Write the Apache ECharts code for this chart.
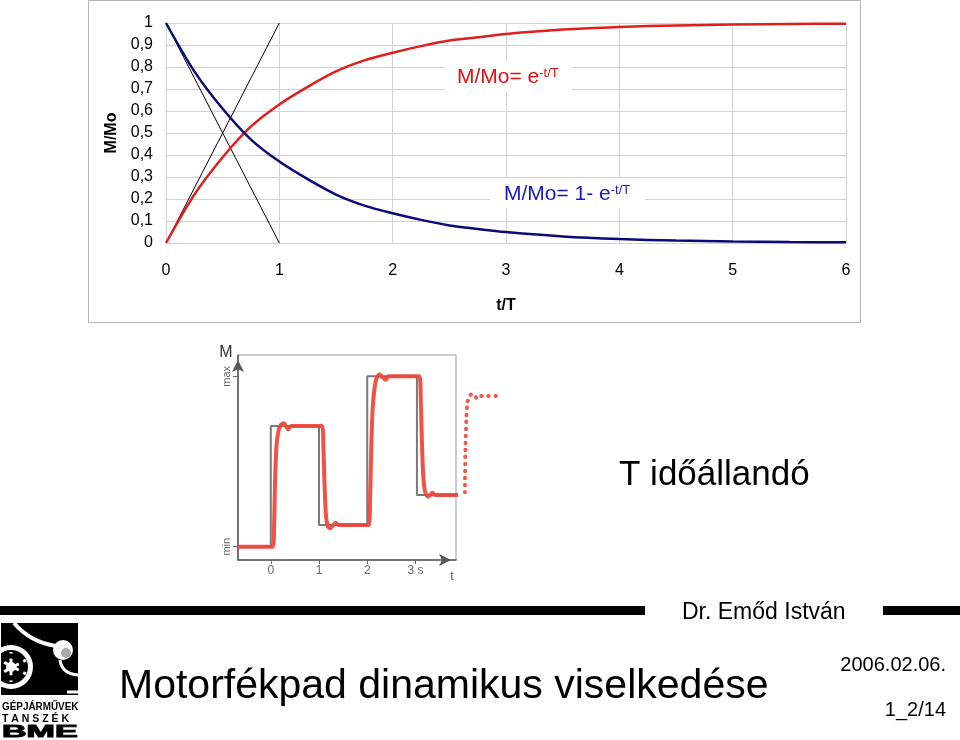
<!DOCTYPE html>
<html>
<head>
<meta charset="utf-8">
<script src="https://cdn.jsdelivr.net/npm/echarts@6/dist/echarts.min.js"></script>
<style>
  html, body { margin: 0; padding: 0; background: #fff; }
  #main { width: 960px; height: 740px; }
</style>
</head>
<body>
<div id="main"></div>
<script>
// top chart: t/T and the two exponential curves
var tT = [0, 0.25, 0.5, 0.75, 1, 1.25, 1.5, 1.75, 2, 2.25, 2.5, 2.75, 3, 3.5, 4, 4.5, 5, 5.5, 6];
var riseVals = [0, 0.22, 0.39, 0.53, 0.63, 0.71, 0.78, 0.83, 0.865, 0.895, 0.92, 0.935, 0.95, 0.97, 0.982, 0.989, 0.993, 0.996, 0.997];
var decayVals = [1, 0.78, 0.61, 0.47, 0.37, 0.29, 0.22, 0.17, 0.135, 0.105, 0.08, 0.064, 0.05, 0.03, 0.018, 0.011, 0.007, 0.004, 0.003];
var tangentUp = [[0, 0], [1, 1]];
var tangentDown = [[0, 1], [1, 0]];

// bottom chart: step input (grey) and response (red), M scaled min=0 .. max=1
var stepT = [-0.68, 0, 0, 1, 1, 2, 2, 3.03, 3.03, 3.87];
var stepM = [0, 0, 0.709, 0.709, 0.127, 0.127, 1, 1, 0.303, 0.303];
var respT = [-0.68, 0.04, 0.07, 0.09, 0.12, 0.16, 0.21, 0.27, 0.32, 0.36, 0.42, 1.06, 1.09, 1.11, 1.14, 1.18, 1.23, 1.29, 1.35, 1.41, 2.03, 2.06, 2.08, 2.11, 2.15, 2.19, 2.25, 2.32, 2.38, 2.44, 3.08, 3.11, 3.13, 3.16, 3.2, 3.26, 3.31, 3.35, 3.41, 3.92];
var respM = [0, 0, 0.15, 0.4, 0.6, 0.68, 0.715, 0.725, 0.705, 0.69, 0.708, 0.709, 0.6, 0.4, 0.2, 0.12, 0.108, 0.125, 0.14, 0.127, 0.127, 0.3, 0.55, 0.8, 0.93, 0.985, 1.01, 0.995, 0.98, 1.0, 1.0, 0.85, 0.65, 0.42, 0.32, 0.293, 0.305, 0.316, 0.303, 0.303];
// continuation after the frame (dotted)
var dotT = [4.02, 4.03, 4.05, 4.07, 4.1, 4.15, 4.21, 4.27, 4.33, 4.5, 4.69];
var dotM = [0.32, 0.55, 0.75, 0.84, 0.875, 0.893, 0.893, 0.87, 0.885, 0.885, 0.885];
var bottomTicks = [0, 1, 2, 3];

function pairs(xs, ys) {
  return xs.map(function (x, i) { return [x, ys[i]]; });
}

var FONT = 'Liberation Sans, Arial, sans-serif';
var chart = echarts.init(document.getElementById('main'), null, { renderer: 'canvas' });

// bottom chart scale: 48.3 px per second, t=0 at x=270.7
var PX = 48.3, X0 = 270.7;

var option = {
  animation: false,
  backgroundColor: '#fff',
  grid: [
    { left: 166, top: 23, width: 680, height: 220, show: false },
    { left: 238, top: 355, width: 218, height: 205, show: true, borderColor: '#9a9a9a', borderWidth: 1 },
    { left: X0 + 4.0 * PX, top: 355, width: 0.75 * PX, height: 205, show: false }
  ],
  xAxis: [
    {
      gridIndex: 0, type: 'value', min: 0, max: 6, interval: 1,
      name: 't/T', nameLocation: 'middle', nameGap: 55,
      nameTextStyle: { fontFamily: FONT, fontWeight: 'bold', fontSize: 16, color: '#000' },
      axisLine: { show: false }, axisTick: { show: false },
      axisLabel: { fontFamily: FONT, fontSize: 16, color: '#000', margin: 20 },
      splitLine: { show: true, lineStyle: { color: '#d2d2d2', width: 1 } }
    },
    {
      gridIndex: 1, type: 'value', min: -0.68, max: 3.84,
      axisLine: { show: true, onZero: false, lineStyle: { color: '#555', width: 1.5 }, symbol: ['none', 'arrow'], symbolSize: [9, 12], symbolOffset: [0, -5] },
      axisTick: { show: true, customValues: bottomTicks, length: 4, lineStyle: { color: '#666' } },
      axisLabel: { customValues: bottomTicks, fontFamily: FONT, fontSize: 12, color: '#666', margin: 5,
        formatter: function (v) { return v === 3 ? '3 s' : String(v); } },
      splitLine: { show: false }
    },
    { gridIndex: 2, type: 'value', min: 4.0, max: 4.75, show: false }
  ],
  yAxis: [
    {
      gridIndex: 0, type: 'value', min: 0, max: 1, interval: 0.1,
      name: 'M/Mo', nameLocation: 'middle', nameGap: 46, nameRotate: 90,
      nameTextStyle: { fontFamily: FONT, fontWeight: 'bold', fontSize: 16, color: '#000' },
      axisLine: { show: false }, axisTick: { show: false },
      axisLabel: { fontFamily: FONT, fontSize: 16, color: '#000', margin: 13,
        formatter: function (v) { return String(Math.round(v * 10) / 10).replace('.', ','); } },
      splitLine: { show: true, lineStyle: { color: '#d2d2d2', width: 1 } }
    },
    {
      gridIndex: 1, type: 'value', min: -0.078, max: 1.125,
      axisLine: { show: true, onZero: false, lineStyle: { color: '#555', width: 1.5 }, symbol: ['none', 'arrow'], symbolSize: [9, 12], symbolOffset: [0, -5] },
      axisTick: { show: true, customValues: [0, 1], length: 5, lineStyle: { color: '#666' } },
      axisLabel: { customValues: [0, 1], rotate: 90, fontFamily: FONT, fontSize: 11, color: '#666', margin: 6,
        formatter: function (v) { return v === 0 ? 'min' : 'max'; } },
      splitLine: { show: false }
    },
    { gridIndex: 2, type: 'value', min: -0.078, max: 1.125, show: false }
  ],
  series: [
    { type: 'line', xAxisIndex: 0, yAxisIndex: 0, data: pairs(tT, riseVals), smooth: 0.3, symbol: 'none',
      lineStyle: { color: '#e01e1e', width: 2.5 }, z: 4 },
    { type: 'line', xAxisIndex: 0, yAxisIndex: 0, data: pairs(tT, decayVals), smooth: 0.3, symbol: 'none',
      lineStyle: { color: '#0a0a78', width: 2.5 }, z: 4 },
    { type: 'line', xAxisIndex: 0, yAxisIndex: 0, data: tangentUp, symbol: 'none',
      lineStyle: { color: '#000', width: 1 }, z: 3 },
    { type: 'line', xAxisIndex: 0, yAxisIndex: 0, data: tangentDown, symbol: 'none',
      lineStyle: { color: '#000', width: 1 }, z: 3 },
    { type: 'line', xAxisIndex: 1, yAxisIndex: 1, data: pairs(stepT, stepM), symbol: 'none', clip: false,
      lineStyle: { color: '#7a7a7a', width: 2 }, z: 3 },
    { type: 'line', xAxisIndex: 1, yAxisIndex: 1, data: pairs(respT, respM), smooth: 0.25, symbol: 'none', clip: false,
      lineStyle: { color: '#ee4436', width: 4, opacity: 0.92 }, z: 4 },
    { type: 'line', xAxisIndex: 2, yAxisIndex: 2, data: pairs(dotT, dotM), smooth: 0.3, symbol: 'none', clip: false,
      lineStyle: { color: '#ee5a4c', width: 4, type: [0.5, 6.5], cap: 'round' }, z: 4 }
  ],
  graphic: [
    // frame around the top chart
    { type: 'rect', shape: { x: 88.5, y: 0.5, width: 772, height: 322 }, style: { fill: 'none', stroke: '#b4b4b4', lineWidth: 1 }, z: 0 },
    // curve labels on white boxes
    { type: 'rect', shape: { x: 445, y: 61, width: 127, height: 31 }, style: { fill: '#fff' }, z: 5 },
    { type: 'rect', shape: { x: 490, y: 178, width: 155, height: 30 }, style: { fill: '#fff' }, z: 5 },
    { type: 'text', x: 457, y: 77, z: 6, style: {
      text: '{m|M/Mo= e}{s|-t/T}', verticalAlign: 'middle', textAlign: 'left',
      rich: { m: { fontFamily: FONT, fontSize: 21, fill: '#e01010' }, s: { fontFamily: FONT, fontSize: 13, fill: '#e01010', verticalAlign: 'top' } } } },
    { type: 'text', x: 504, y: 194, z: 6, style: {
      text: '{m|M/Mo= 1- e}{s|-t/T}', verticalAlign: 'middle', textAlign: 'left',
      rich: { m: { fontFamily: FONT, fontSize: 21, fill: '#1818c0' }, s: { fontFamily: FONT, fontSize: 13, fill: '#1818c0', verticalAlign: 'top' } } } },
    // bottom chart axis names
    { type: 'text', x: 226, y: 353, z: 6, style: { text: 'M', fontFamily: FONT, fontSize: 16, fill: '#333', textAlign: 'center', verticalAlign: 'middle' } },
    { type: 'text', x: 452, y: 576, z: 6, style: { text: 't', fontFamily: FONT, fontSize: 13, fill: '#666', textAlign: 'center', verticalAlign: 'middle' } },
    // slide text
    { type: 'text', x: 619, y: 475, style: { text: 'T időállandó', fontFamily: FONT, fontSize: 35, fill: '#000', textAlign: 'left', verticalAlign: 'middle' } },
    { type: 'rect', shape: { x: 0, y: 606, width: 645, height: 9 }, style: { fill: '#000' } },
    { type: 'rect', shape: { x: 883, y: 606, width: 77, height: 9 }, style: { fill: '#000' } },
    { type: 'text', x: 682, y: 613, style: { text: 'Dr. Emőd István', fontFamily: FONT, fontSize: 23, fill: '#000', textAlign: 'left', verticalAlign: 'middle' } },
    { type: 'text', x: 119, y: 687, style: { text: 'Motorfékpad dinamikus viselkedése', fontFamily: FONT, fontSize: 41, fill: '#000', textAlign: 'left', verticalAlign: 'middle' } },
    { type: 'text', x: 946, y: 665, style: { text: '2006.02.06.', fontFamily: FONT, fontSize: 20, fill: '#000', textAlign: 'right', verticalAlign: 'middle' } },
    { type: 'text', x: 946, y: 710, style: { text: '1_2/14', fontFamily: FONT, fontSize: 20, fill: '#000', textAlign: 'right', verticalAlign: 'middle' } },
    // department logo
    { type: 'group', children: [
      { type: 'rect', shape: { x: 1, y: 623, width: 77, height: 72 }, style: { fill: '#000' } },
      { type: 'bezierCurve', shape: { x1: 14, y1: 623, cpx1: 30, cpy1: 642, x2: 56, y2: 646 }, style: { fill: 'none', stroke: '#fff', lineWidth: 4 } },
      { type: 'bezierCurve', shape: { x1: 60, y1: 660, cpx1: 62, cpy1: 674, x2: 78, y2: 675 }, style: { fill: 'none', stroke: '#fff', lineWidth: 3 } },
      { type: 'circle', shape: { cx: 63, cy: 650, r: 10 }, style: { fill: '#fff' } },
      { type: 'circle', shape: { cx: 66, cy: 653, r: 5 }, style: { fill: '#aaa' } },
      { type: 'line', shape: { x1: 67, y1: 692, x2: 78, y2: 692 }, style: { stroke: '#fff', lineWidth: 3 } },
      { type: 'circle', shape: { cx: 11, cy: 667, r: 22 }, style: { fill: '#fff' } },
      { type: 'circle', shape: { cx: 11, cy: 667, r: 17 }, style: { fill: '#000' } },
      { type: 'circle', shape: { cx: 11, cy: 667, r: 5 }, style: { fill: '#fff' } },
      { type: 'line', shape: { x1: 11, y1: 652, x2: 11, y2: 682 }, style: { stroke: '#fff', lineWidth: 3 } },
      { type: 'line', shape: { x1: 0, y1: 660, x2: 26, y2: 674 }, style: { stroke: '#fff', lineWidth: 3 } },
      { type: 'line', shape: { x1: 0, y1: 674, x2: 26, y2: 660 }, style: { stroke: '#fff', lineWidth: 3 } },
      { type: 'circle', shape: { cx: 11, cy: 667, r: 11 }, style: { fill: 'none', stroke: '#000', lineWidth: 5 } },
      { type: 'rect', shape: { x: 0, y: 623, width: 1, height: 72 }, style: { fill: '#fff' } },
      { type: 'text', x: 2, y: 707, scaleX: 0.9, style: { text: 'GÉPJÁRMŰVEK', fontFamily: FONT, fontWeight: 'bold', fontSize: 11, fill: '#000', textAlign: 'left', verticalAlign: 'middle' } },
      { type: 'text', x: 2, y: 719, style: { text: 'T A N S Z É K', fontFamily: FONT, fontWeight: 'bold', fontSize: 10.5, fill: '#000', textAlign: 'left', verticalAlign: 'middle' } },
      { type: 'text', x: 2, y: 732, scaleX: 2.0, style: { text: 'BME', fontFamily: FONT, fontWeight: 900, fontSize: 17, fill: '#000', textAlign: 'left', verticalAlign: 'middle', stroke: '#000', lineWidth: 1 } }
    ] }
  ]
};
chart.setOption(option);
</script>
</body>
</html>
